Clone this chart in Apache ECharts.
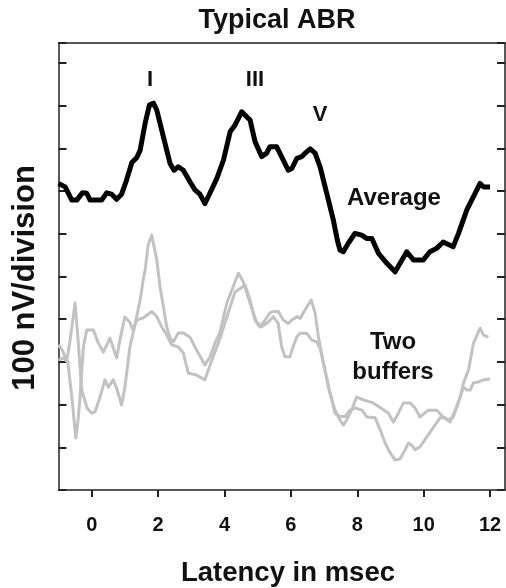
<!DOCTYPE html>
<html>
<head>
<meta charset="utf-8">
<script src="https://cdn.jsdelivr.net/npm/echarts@6/dist/echarts.min.js"></script>
<style>
html,body{margin:0;padding:0;background:#fff;}
#chart{width:506px;height:588px;}
</style>
</head>
<body>
<div id="chart"></div>
<script>
// x tick labels (msec)
var xTicks = [0, 2, 4, 6, 8, 10, 12];

// Average trace: [latency msec, amplitude in divisions]
var averageTrace = [
[-1.0,7.18],[-0.80,7.10],[-0.60,6.79],[-0.45,6.79],[-0.28,6.96],[-0.15,6.95],[-0.05,6.79],
[0.30,6.79],[0.45,6.96],[0.60,6.93],[0.75,6.81],[0.90,6.93],[1.05,7.26],[1.21,7.67],
[1.36,7.79],[1.46,7.96],[1.61,8.59],[1.74,9.02],[1.86,9.06],[1.96,8.90],[2.16,8.27],
[2.36,7.65],[2.48,7.49],[2.61,7.57],[2.76,7.49],[2.96,7.22],[3.11,7.03],[3.26,6.93],
[3.41,6.71],[3.56,6.95],[3.77,7.30],[3.97,7.73],[4.17,8.39],[4.32,8.55],[4.52,8.86],
[4.67,8.74],[4.77,8.67],[4.92,8.16],[5.12,7.81],[5.27,7.89],[5.37,8.04],[5.57,8.04],
[5.72,7.81],[5.92,7.49],[6.03,7.53],[6.18,7.77],[6.33,7.81],[6.43,7.89],[6.58,7.99],
[6.73,7.89],[6.88,7.57],[7.08,6.95],[7.28,6.32],[7.40,5.85],[7.48,5.62],[7.58,5.58],
[7.73,5.78],[7.93,6.01],[8.13,5.97],[8.29,5.89],[8.44,5.89],[8.64,5.54],[8.89,5.31],
[9.14,5.11],[9.29,5.31],[9.49,5.58],[9.69,5.39],[9.99,5.39],[10.19,5.58],[10.39,5.66],
[10.59,5.81],[10.89,5.70],[11.05,6.01],[11.30,6.56],[11.50,6.87],[11.70,7.18],[11.80,7.10],
[12.00,7.10]
];

// Buffer A (larger wave I)
var bufferA = [
[-1.0,3.40],[-0.89,3.28],[-0.75,3.04],[-0.65,3.51],[-0.50,4.38],[-0.41,3.51],[-0.30,2.34],
[-0.14,1.92],[0.00,1.80],[0.10,1.83],[0.25,2.18],[0.40,2.58],[0.50,2.41],[0.65,2.58],
[0.75,2.39],[0.90,1.99],[1.00,2.41],[1.15,3.35],[1.30,3.86],[1.46,4.45],[1.55,4.92],
[1.61,5.15],[1.70,5.74],[1.81,5.97],[1.96,5.39],[2.06,4.75],[2.16,4.29],[2.26,3.82],
[2.36,3.56],[2.46,3.47],[2.61,3.68],[2.76,3.68],[2.96,3.58],[3.16,3.28],[3.41,2.93],
[3.56,3.11],[3.71,3.44],[3.86,3.68],[4.07,4.38],[4.22,4.68],[4.42,5.08],[4.57,4.87],
[4.77,4.38],[4.97,3.91],[5.07,3.82],[5.22,3.98],[5.37,4.15],[5.47,4.18],[5.62,4.18],
[5.77,3.98],[5.92,3.90],[6.03,3.98],[6.18,4.06],[6.28,4.02],[6.43,4.22],[6.61,4.45],
[6.73,4.15],[6.83,3.58],[6.98,2.97],[7.13,2.41],[7.33,1.87],[7.48,1.64],[7.58,1.52],
[7.68,1.64],[7.83,1.87],[7.98,2.18],[8.18,2.11],[8.48,2.04],[8.71,1.92],[8.94,1.80],
[9.09,1.59],[9.24,1.80],[9.39,2.04],[9.59,2.04],[9.74,1.92],[9.89,1.71],[10.14,1.87],
[10.39,1.87],[10.59,1.71],[10.80,1.59],[10.95,1.87],[11.10,2.18],[11.20,2.51],[11.35,2.81],
[11.50,3.44],[11.70,3.79],[11.80,3.63],[11.95,3.58]
];

// Buffer B (smaller wave I)
var bufferB = [
[-1.0,3.04],[-0.86,3.09],[-0.72,3.00],[-0.59,2.11],[-0.48,1.22],[-0.41,1.64],[-0.35,2.18],
[-0.25,3.35],[-0.15,3.75],[0.05,3.75],[0.20,3.44],[0.35,3.23],[0.55,3.56],[0.75,3.09],
[0.88,3.63],[1.00,4.05],[1.15,3.93],[1.24,3.75],[1.36,3.98],[1.55,4.03],[1.81,4.18],
[1.96,4.06],[2.11,3.82],[2.26,3.63],[2.41,3.40],[2.61,3.35],[2.76,3.21],[2.91,2.74],
[3.16,2.69],[3.41,2.58],[3.62,3.04],[3.87,3.56],[4.07,4.05],[4.32,4.64],[4.62,4.80],
[4.77,4.45],[4.92,3.98],[5.12,3.82],[5.31,3.93],[5.47,4.06],[5.62,3.90],[5.72,3.36],
[5.82,3.12],[5.97,3.12],[6.07,3.36],[6.18,3.59],[6.28,3.67],[6.48,3.67],[6.63,3.51],
[6.78,3.47],[6.88,3.32],[7.03,2.81],[7.18,2.26],[7.33,1.80],[7.48,1.72],[7.63,1.72],
[7.78,1.87],[7.93,1.92],[8.14,1.87],[8.29,1.71],[8.54,1.69],[8.69,1.41],[8.84,1.10],
[8.99,0.87],[9.14,0.70],[9.29,0.73],[9.44,0.94],[9.54,1.10],[9.64,1.05],[9.74,0.94],
[9.89,1.01],[10.09,1.24],[10.24,1.41],[10.39,1.57],[10.49,1.69],[10.64,1.69],[10.74,1.64],
[10.89,1.71],[11.00,1.94],[11.10,2.18],[11.20,2.41],[11.30,2.34],[11.40,2.34],[11.50,2.51],
[11.65,2.53],[11.80,2.58],[12.00,2.60]
];

var FONT = '"Liberation Sans", Arial, sans-serif';
var axisColor = '#222';

var chart = echarts.init(document.getElementById('chart'), null, {renderer: 'canvas'});

function txt(text, x, y, size, rot) {
  return {
    type: 'text', x: x, y: y, rotation: rot || 0,
    style: {text: text, fill: '#111', font: 'bold ' + size + 'px ' + FONT,
            align: 'center', verticalAlign: 'middle'}
  };
}

chart.setOption({
  animation: false,
  backgroundColor: '#fff',
  grid: {left: 58.5, right: 1, top: 43, bottom: 98},
  xAxis: [{
    type: 'value', min: -1, max: 12.45, position: 'bottom',
    axisLine: {show: true, lineStyle: {color: axisColor, width: 1.5}},
    axisTick: {show: true, inside: false, length: 7, customValues: xTicks,
               lineStyle: {color: axisColor, width: 2}},
    axisLabel: {show: true, customValues: xTicks, margin: 25, fontSize: 20,
                fontWeight: 'bold', color: '#111', fontFamily: FONT},
    splitLine: {show: false}
  }, {
    type: 'value', min: -1, max: 12.45, position: 'top',
    axisLine: {show: true, onZero: false, lineStyle: {color: axisColor, width: 1.5}},
    axisTick: {show: false}, axisLabel: {show: false}, splitLine: {show: false}
  }],
  yAxis: [{
    type: 'value', min: 0, max: 10.47, interval: 1, position: 'left',
    axisLine: {show: true, onZero: false, lineStyle: {color: axisColor, width: 1.5}},
    axisTick: {show: true, inside: true, length: 8, lineStyle: {color: axisColor, width: 2}},
    axisLabel: {show: false}, splitLine: {show: false}
  }, {
    type: 'value', min: 0, max: 10.47, interval: 1, position: 'right',
    axisLine: {show: true, onZero: false, lineStyle: {color: axisColor, width: 1.5}},
    axisTick: {show: true, inside: true, length: 8, lineStyle: {color: axisColor, width: 2}},
    axisLabel: {show: false}, splitLine: {show: false}
  }],
  series: [{
    type: 'line', name: 'Buffer A', data: bufferA, showSymbol: false, z: 2,
    lineStyle: {color: '#c2c2c2', width: 3, join: 'round'}
  }, {
    type: 'line', name: 'Buffer B', data: bufferB, showSymbol: false, z: 2,
    lineStyle: {color: '#c2c2c2', width: 3, join: 'round'}
  }, {
    type: 'line', name: 'Average', data: averageTrace, showSymbol: false, z: 3,
    lineStyle: {color: '#000', width: 5, join: 'round'}
  }],
  graphic: [
    txt('Typical ABR', 277, 21, 27),
    txt('Latency in msec', 288, 573, 27.5),
    txt('100 nV/division', 25, 278, 31, Math.PI / 2),
    txt('I', 150, 80, 22),
    txt('III', 255, 80, 22),
    txt('V', 320, 115, 22),
    txt('Average', 394, 198, 24),
    txt('Two', 393, 342, 24),
    txt('buffers', 393, 372, 24)
  ]
});
</script>
</body>
</html>
